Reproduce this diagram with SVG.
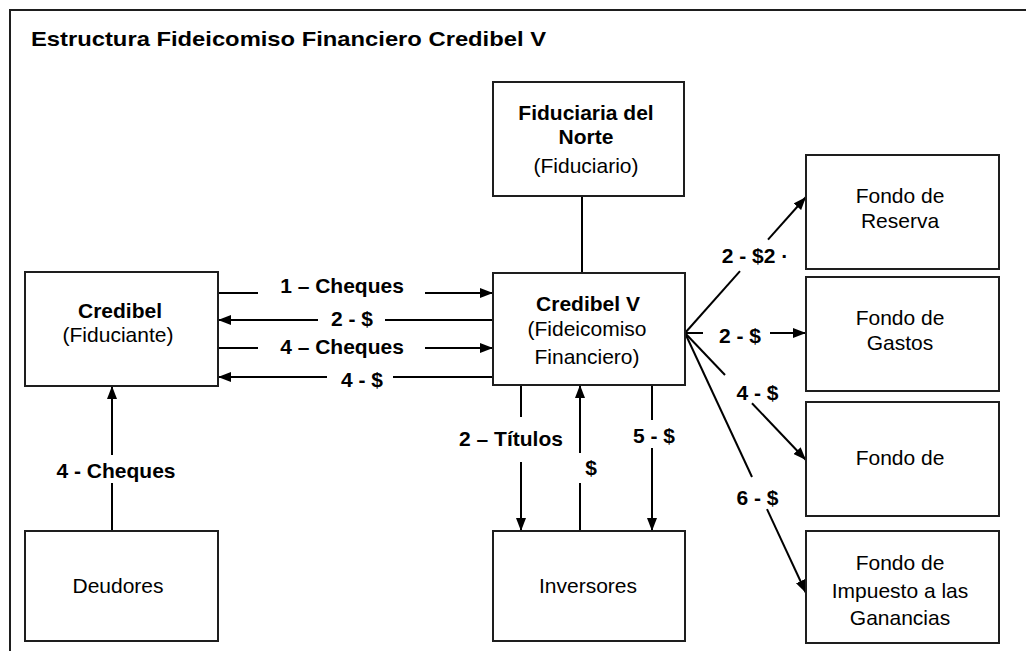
<svg xmlns="http://www.w3.org/2000/svg" width="1026" height="651" viewBox="0 0 1026 651">
<defs>
<marker id="ah" markerUnits="userSpaceOnUse" markerWidth="13" markerHeight="10" refX="13" refY="5" orient="auto">
<path d="M0,0 L13,5 L0,10 z" fill="#000"/>
</marker>
</defs>
<style>
.box{fill:#fff;stroke:#1e1e1e;stroke-width:2}
.ln{stroke:#000;stroke-width:2;fill:none}
.ar{stroke:#000;stroke-width:2;fill:none;marker-end:url(#ah)}
text{font-family:"Liberation Sans",Arial,sans-serif;font-size:21px;fill:#000;text-anchor:middle}
.b{font-weight:bold}
</style>
<rect x="0" y="0" width="1026" height="651" fill="#fff"/>
<rect x="10" y="10" width="1040" height="670" fill="none" stroke="#1e1e1e" stroke-width="2"/>
<text class="b" x="31" y="46" style="text-anchor:start" textLength="515" lengthAdjust="spacingAndGlyphs">Estructura Fideicomiso Financiero Credibel V</text>

<g id="connectors">
<line class="ln" x1="582" y1="196" x2="582" y2="273"/>
<line class="ln" x1="218" y1="293" x2="258" y2="293"/>
<line class="ar" x1="425" y1="293" x2="493" y2="293"/>
<line class="ln" x1="493" y1="320" x2="385" y2="320"/>
<line class="ar" x1="318" y1="320" x2="218" y2="320"/>
<line class="ln" x1="218" y1="348" x2="258" y2="348"/>
<line class="ar" x1="425" y1="348" x2="493" y2="348"/>
<line class="ln" x1="493" y1="377" x2="393" y2="377"/>
<line class="ar" x1="327" y1="377" x2="218" y2="377"/>
<line class="ln" x1="112" y1="531" x2="112" y2="483"/>
<line class="ar" x1="112" y1="455" x2="112" y2="386"/>
<line class="ln" x1="521" y1="385" x2="521" y2="417"/>
<line class="ar" x1="521" y1="462" x2="521" y2="531"/>
<line class="ln" x1="580" y1="531" x2="580" y2="483"/>
<line class="ar" x1="580" y1="453" x2="580" y2="385"/>
<line class="ln" x1="652" y1="385" x2="652" y2="420"/>
<line class="ar" x1="652" y1="448" x2="652" y2="531"/>
<line class="ln" x1="685" y1="333" x2="740" y2="271.2"/>
<line class="ar" x1="768" y1="239.7" x2="806" y2="197"/>
<line class="ln" x1="685" y1="333" x2="703" y2="333"/>
<line class="ar" x1="770" y1="333" x2="806" y2="333"/>
<line class="ln" x1="685" y1="333" x2="725" y2="375"/>
<line class="ar" x1="752" y1="403.3" x2="806" y2="460"/>
<line class="ln" x1="685" y1="333" x2="752" y2="477"/>
<line class="ar" x1="767" y1="509.2" x2="806" y2="593"/>
<text class="b" x="342" y="293">1 – Cheques</text>
<text class="b" x="352" y="325.5">2 - $</text>
<text class="b" x="342" y="354">4 – Cheques</text>
<text class="b" x="362" y="387">4 - $</text>
<text class="b" x="116" y="478">4 - Cheques</text>
<text class="b" x="511" y="446">2 – Títulos</text>
<text class="b" x="591" y="475">$</text>
<text class="b" x="654" y="443">5 - $</text>
<text class="b" x="755" y="263">2 - $2 ·</text>
<text class="b" x="740" y="343">2 - $</text>
<text class="b" x="757.5" y="399.5">4 - $</text>
<text class="b" x="757.5" y="505">6 - $</text>
</g>

<g id="fiduciaria">
<rect class="box" x="493" y="82" width="191" height="114"/>
<text class="b" x="586" y="120">Fiduciaria del</text>
<text class="b" x="586" y="144">Norte</text>
<text x="586" y="172.5">(Fiduciario)</text>
</g>
<g id="credibelv">
<rect class="box" x="493" y="273" width="192" height="112"/>
<text class="b" x="588" y="311">Credibel V</text>
<text x="587" y="336">(Fideicomiso</text>
<text x="587" y="363.5">Financiero)</text>
</g>
<g id="credibel">
<rect class="box" x="25" y="272" width="193" height="114"/>
<text class="b" x="120" y="318">Credibel</text>
<text x="118" y="342">(Fiduciante)</text>
</g>
<g id="deudores">
<rect class="box" x="25" y="531" width="193" height="110"/>
<text x="118" y="593">Deudores</text>
</g>
<g id="inversores">
<rect class="box" x="493" y="531" width="192" height="110"/>
<text x="588" y="593">Inversores</text>
</g>
<g id="fondo-reserva">
<rect class="box" x="806" y="155" width="193" height="114"/>
<text x="900" y="203">Fondo de</text>
<text x="900" y="228">Reserva</text>
</g>
<g id="fondo-gastos">
<rect class="box" x="806" y="277" width="193" height="114"/>
<text x="900" y="325">Fondo de</text>
<text x="900" y="350">Gastos</text>
</g>
<g id="fondo-3">
<rect class="box" x="806" y="402" width="193" height="114"/>
<text x="900" y="465">Fondo de</text>
</g>
<g id="fondo-impuesto">
<rect class="box" x="806" y="531" width="193" height="112"/>
<text x="900" y="570">Fondo de</text>
<text x="900" y="598">Impuesto a las</text>
<text x="900" y="625">Ganancias</text>
</g>
</svg>
